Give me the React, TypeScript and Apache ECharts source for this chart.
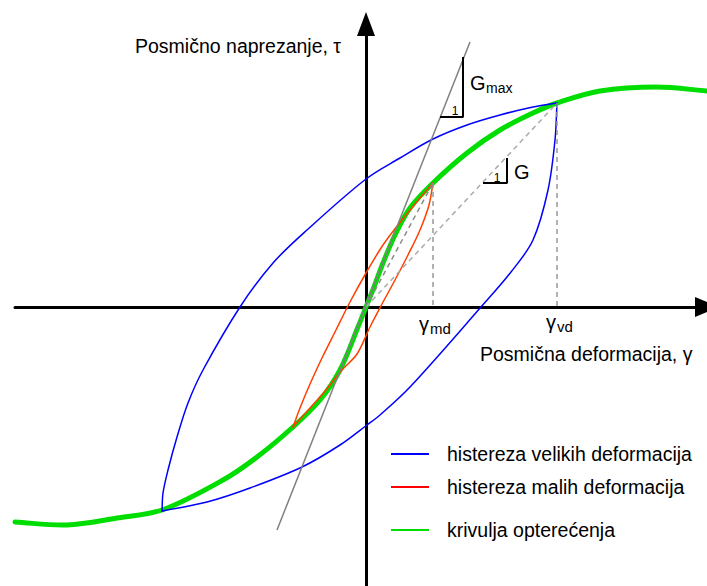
import React, { useEffect, useRef } from "react";
import * as echarts from "echarts";

const FONT = "'Liberation Sans', Arial, Helvetica, sans-serif";

const NAME_LARGE = "histereza velikih deformacija";
const NAME_SMALL = "histereza malih deformacija";
const NAME_BACKBONE = "krivulja opterećenja";

// axis extents (shear strain gamma on x, shear stress tau on y), arbitrary units
const GAMMA_MIN = -351;
const GAMMA_MAX = 341;
const TAU_MIN = -279;
const TAU_MAX = 283;

// backbone (loading) curve
const backbone: [number, number][] = [
  [-351, -215], [-299, -218], [-249, -211], [-204, -203], [-143, -173], [-109, -150],
  [-73, -120], [-46, -93], [-26, -63], [-8, -20], [0, 0], [8, 20], [17, 44], [29, 72],
  [44, 99], [67, 124], [101, 154], [134, 177], [167, 194], [191, 204], [234, 216],
  [291, 220], [341, 216],
];

// large-strain hysteresis loop
const largeUpper: [number, number][] = [
  [-204, -204], [-203, -186], [-198, -163], [-189, -130], [-178, -96], [-163, -63],
  [-126, 0], [-93, 44], [-59, 77], [0, 128], [34, 149], [67, 168], [101, 182],
  [134, 192], [167, 200], [191, 204],
];
const largeLower: [number, number][] = [
  [191, 204], [189, 167], [182, 117], [167, 67], [145, 35], [115, 0], [44, -80],
  [14, -108], [1, -118], [-26, -138], [-64, -160], [-116, -181], [-159, -195], [-204, -204],
];

// small-strain hysteresis loop
const smallUpper: [number, number][] = [
  [-73, -120], [-66, -101], [-56, -77], [-44, -51], [-30, -23], [-16, 5], [0, 34],
  [17, 62], [36, 87], [54, 109], [67, 124],
];
const smallLower: [number, number][] = [
  [67, 124], [63, 102], [54, 77], [42, 52], [29, 27], [16, 3], [4, -20], [-9, -47],
  [-24, -63], [-40, -83], [-56, -101], [-73, -120],
];

// construction lines
const gmaxLine: [number, number][] = [[-89, -223], [104, 265]];
const gammaMdDrop: [number, number][] = [[67, 124], [67, 0]];
const gammaVdDrop: [number, number][] = [[191, 204], [191, 0]];
const secantSmall: [number, number][] = [[0, 0], [67, 124]];
const secantLarge: [number, number][] = [[0, 0], [191, 204]];
const gmaxTriangle: [number, number][] = [[74, 190], [97, 190], [97, 250]];
const gTriangle: [number, number][] = [[117, 124], [141, 124], [141, 149]];

const COLORS = {
  backbone: "#00dd00",
  large: "#0000ff",
  small: "#ff4000",
  smallLegend: "#ff0000",
  gray: "#808080",
};

// smooth path through pixel points (Catmull-Rom style, distance weighted)
function smoothPath(pts: number[][]): string {
  const n = pts.length;
  const dist = (a: number[], b: number[]) => Math.hypot(b[0] - a[0], b[1] - a[1]);
  let d = `M${pts[0][0]},${pts[0][1]}`;
  for (let i = 0; i < n - 1; i++) {
    const p0 = pts[i - 1] || pts[i];
    const p1 = pts[i];
    const p2 = pts[i + 1];
    const p3 = pts[i + 2] || pts[i + 1];
    const d01 = dist(p0, p1);
    const d12 = dist(p1, p2);
    const d23 = dist(p2, p3);
    const k1 = d12 / (3 * (d01 + d12 || 1));
    const k2 = d12 / (3 * (d12 + d23 || 1));
    const c1x = p1[0] + (p2[0] - p0[0]) * k1;
    const c1y = p1[1] + (p2[1] - p0[1]) * k1;
    const c2x = p2[0] - (p3[0] - p1[0]) * k2;
    const c2y = p2[1] - (p3[1] - p1[1]) * k2;
    d += ` C${c1x},${c1y} ${c2x},${c2y} ${p2[0]},${p2[1]}`;
  }
  return d;
}

function curve(name: string, data: [number, number][], color: string, width: number, z = 2) {
  return {
    type: "custom",
    name,
    data,
    z,
    silent: true,
    itemStyle: { color },
    renderItem: (params: any, api: any) => {
      if (params.dataIndex !== 0) return null;
      const pts = data.map((p) => api.coord(p));
      return {
        type: "path",
        shape: { pathData: smoothPath(pts) },
        style: { fill: "none", stroke: color, lineWidth: width, lineCap: "round", lineJoin: "round" },
        silent: true,
      };
    },
  };
}

function straight(data: [number, number][], color: string, width: number, dashed: boolean, z = 3) {
  return {
    type: "line",
    data,
    symbol: "none",
    showSymbol: false,
    silent: true,
    z,
    itemStyle: { color },
    lineStyle: { color, width, type: dashed ? [5, 4] : "solid" },
  };
}

function legendFor(name: string, color: string, top: number) {
  return {
    data: [{ name, itemStyle: { color, borderWidth: 0 } }],
    left: 391,
    top,
    padding: 0,
    icon: "rect",
    itemWidth: 38,
    itemHeight: 2,
    selectedMode: false,
    itemStyle: { borderWidth: 0 },
    textStyle: { fontSize: 19.5, fontFamily: FONT, color: "#000", padding: [0, 0, 0, 13] },
  };
}

function txt(text: string, x: number, y: number, fontSize: number, align = "left") {
  return {
    type: "text",
    x,
    y,
    silent: true,
    z: 10,
    style: { text, fontSize, fontFamily: FONT, fill: "#000", align, verticalAlign: "middle" },
  };
}

export default function App() {
  const ref = useRef<HTMLDivElement>(null);
  useEffect(() => {
    if (!ref.current) return;
    const chart = echarts.init(ref.current, undefined, { renderer: "svg" });
    const axisCommon = {
      type: "value",
      axisTick: { show: false },
      axisLabel: { show: false },
      splitLine: { show: false },
    };
    chart.setOption({
      animation: false,
      backgroundColor: "#ffffff",
      grid: { left: 15, right: 0, top: 24, bottom: 0 },
      xAxis: {
        ...axisCommon,
        min: GAMMA_MIN,
        max: GAMMA_MAX,
        axisLine: {
          show: true,
          onZero: true,
          symbol: ["none", "triangle"],
          symbolSize: [20, 24],
          lineStyle: { color: "#000", width: 3 },
        },
      },
      yAxis: {
        ...axisCommon,
        min: TAU_MIN,
        max: TAU_MAX,
        axisLine: {
          show: true,
          onZero: true,
          symbol: ["none", "triangle"],
          symbolSize: [18, 24],
          lineStyle: { color: "#000", width: 3 },
        },
      },
      legend: [
        legendFor(NAME_LARGE, COLORS.large, 444),
        legendFor(NAME_SMALL, COLORS.smallLegend, 477),
        legendFor(NAME_BACKBONE, COLORS.backbone, 520),
      ],
      series: [
        curve(NAME_BACKBONE, backbone, COLORS.backbone, 5, 2),
        curve(NAME_LARGE, largeUpper, COLORS.large, 1.5, 3),
        curve(NAME_LARGE, largeLower, COLORS.large, 1.5, 3),
        curve(NAME_SMALL, smallUpper, COLORS.small, 1.5, 3),
        curve(NAME_SMALL, smallLower, COLORS.small, 1.5, 3),
        straight(gmaxLine, COLORS.gray, 1.5, false, 4),
        straight(gammaMdDrop, "#999999", 1.5, true),
        straight(gammaVdDrop, "#999999", 1.5, true),
        straight(secantSmall, "#888888", 1.5, true),
        straight(secantLarge, "#aaaaaa", 1.5, true),
        straight(gmaxTriangle, "#000000", 2, false, 5),
        straight(gTriangle, "#000000", 2, false, 5),
      ],
      graphic: [
        txt("Posmično naprezanje, τ", 135, 46, 19.5),
        txt("Posmična deformacija, γ", 480, 354, 19.5),
        txt("γ", 419, 324, 20),
        txt("md", 430, 328, 15),
        txt("γ", 546, 322, 20),
        txt("vd", 557, 326, 15),
        txt("G", 470, 83, 20),
        txt("max", 486, 88, 14),
        txt("G", 514, 172, 20),
        txt("1", 455, 111, 12, "center"),
        txt("1", 497, 178, 12, "center"),
      ],
    });
    return () => chart.dispose();
  }, []);
  return (
    <div
      ref={ref}
      style={{ position: "absolute", left: 0, top: 0, width: 707, height: 586, background: "#fff" }}
    />
  );
}
